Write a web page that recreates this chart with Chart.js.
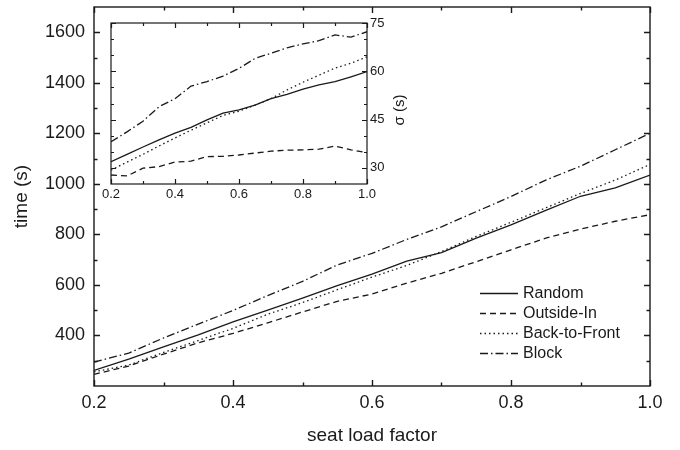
<!DOCTYPE html>
<html>
<head>
<meta charset="utf-8">
<script src="https://cdn.jsdelivr.net/npm/chart.js@4/dist/chart.umd.min.js"></script>
<style>
  html,body{margin:0;padding:0;background:#fff;}
  #wrap{position:relative;width:680px;height:450px;}
  #main{position:absolute;left:0;top:0;}
  #inset{position:absolute;left:95px;top:13px;}
</style>
</head>
<body>
<div id="wrap">
  <canvas id="main" width="680" height="450"></canvas>
  <canvas id="inset" width="315" height="195"></canvas>
</div>
<script>
// seat load factor samples
const loadFactor = [0.2,0.25,0.3,0.35,0.4,0.45,0.5,0.55,0.6,0.65,0.7,0.75,0.8,0.85,0.9,0.95,1.0];

// boarding time (s)
const randomTime      = [262,306,355,402,454,500,548,597,643,694,728,785,838,895,951,984,1035];
const outsideInTime   = [246,279,326,371,408,450,493,535,564,607,646,692,739,785,821,852,878];
const backToFrontTime = [256,283,333,380,428,484,530,581,631,677,732,792,848,905,962,1015,1077];
const blockTime       = [295,330,390,445,499,558,614,679,725,780,830,890,950,1015,1070,1135,1200];

// standard deviation sigma (s), inset
const randomSigma      = [31.9,34.2,36.5,38.7,40.8,42.6,44.9,47.0,48.0,49.5,51.5,52.8,54.5,55.8,56.8,58.3,59.9];
const outsideInSigma   = [27.8,27.5,29.9,30.4,31.8,32.1,33.5,33.6,34.0,34.6,35.2,35.5,35.6,35.8,36.8,35.6,34.7];
const backToFrontSigma = [29.3,31.8,34.2,36.8,39.3,41.7,44.0,46.3,47.6,49.5,51.5,54.2,56.6,58.8,61.0,62.5,64.5];
const blockSigma       = [38.1,41.2,44.5,49.0,51.5,55.4,56.8,58.5,60.9,64.0,65.6,67.3,68.5,69.5,71.3,70.6,72.3];

const seriesNames = ['Random','Outside-In','Back-to-Front','Block'];

// axis ticks
const mainXTicks = [0.2,0.4,0.6,0.8,1.0];
const mainXMinor = [0.3,0.5,0.7,0.9];
const mainYTicks = [400,600,800,1000,1200,1400,1600];
const mainYMinor = [300,500,700,900,1100,1300,1500];
const insetYTicks = [30,45,60,75];
const insetYMinor = [35,40,50,55,65,70];

const ink = '#1a1a1a';
const styles = [[], [6,4], [1.5,3], [8,3,1.5,3]];

function toXY(ys){ return loadFactor.map((x,i)=>({x, y:ys[i]})); }

function makeSets(arrays){
  return arrays.map((a,i)=>({
    label: seriesNames[i], data: toXY(a),
    borderColor: ink, borderWidth: 1.3, borderDash: styles[i],
    pointRadius: 0, tension: 0, fill: false
  }));
}

// pin the axis box size and drop label overhang padding
function pinBox(prop, size){
  return s => {
    s[prop] = size;
    s.paddingTop = 0; s.paddingBottom = 0; s.paddingLeft = 0; s.paddingRight = 0;
  };
}

// frame + inward ticks on all four sides
function frameTicks(o){
  return {
    id: 'frameTicks',
    afterDraw(chart){
      const {ctx, chartArea:a, scales} = chart;
      const xs = scales.x, ys = scales.y;
      ctx.save();
      ctx.strokeStyle = ink; ctx.lineWidth = o.lw;
      ctx.strokeRect(a.left, a.top, a.right - a.left, a.bottom - a.top);
      ctx.beginPath();
      const vx = (vals, len) => vals.forEach(v => {
        const p = Math.round(xs.getPixelForValue(v)) + 0.5;
        ctx.moveTo(p, a.bottom); ctx.lineTo(p, a.bottom - len);
        ctx.moveTo(p, a.top); ctx.lineTo(p, a.top + len);
      });
      const vy = (vals, len) => vals.forEach(v => {
        const p = Math.round(ys.getPixelForValue(v)) + 0.5;
        ctx.moveTo(a.left, p); ctx.lineTo(a.left + len, p);
        ctx.moveTo(a.right, p); ctx.lineTo(a.right - len, p);
      });
      vx(o.xMajor, o.major); vx(o.xMinor, o.minor);
      vy(o.yMajor, o.major); vy(o.yMinor, o.minor);
      ctx.stroke();
      ctx.restore();
    }
  };
}

const legendPlugin = {
  id: 'lineLegend',
  afterDraw(chart){
    const ctx = chart.ctx;
    ctx.save();
    ctx.font = '16px "Liberation Sans", Arial, sans-serif';
    ctx.fillStyle = ink; ctx.textBaseline = 'middle';
    chart.data.datasets.forEach((ds,i)=>{
      const y = 293 + i*20;
      ctx.strokeStyle = ink; ctx.lineWidth = 1.3;
      ctx.setLineDash(ds.borderDash);
      ctx.beginPath(); ctx.moveTo(480, y + 0.5); ctx.lineTo(518, y + 0.5); ctx.stroke();
      ctx.setLineDash([]);
      ctx.fillText(ds.label, 523, y + 1);
    });
    ctx.restore();
  }
};

const tickFont = {family:'"Liberation Sans", Arial, sans-serif', size:18};
const titleFont = {family:'"Liberation Sans", Arial, sans-serif', size:19};

new Chart(document.getElementById('main'), {
  type: 'line',
  data: {datasets: makeSets([randomTime, outsideInTime, backToFrontTime, blockTime])},
  options: {
    responsive: false, animation: false, devicePixelRatio: 1,
    layout: {padding: {top: 7, right: 30, left: 0, bottom: 0}},
    plugins: {legend: {display: false}, tooltip: {enabled: false}},
    scales: {
      x: {
        type: 'linear', min: 0.2, max: 1.0,
        afterBuildTicks: s => { s.ticks = mainXTicks.map(v => ({value: v})); },
        afterFit: pinBox('height', 64),
        grid: {display: false, drawTicks: false}, border: {display: false},
        ticks: {color: ink, font: tickFont, padding: 6, callback: v => v.toFixed(1)},
        title: {display: true, text: 'seat load factor', color: ink, font: titleFont, padding: {bottom: 3}}
      },
      y: {
        type: 'linear', min: 200, max: 1700,
        afterBuildTicks: s => { s.ticks = mainYTicks.map(v => ({value: v})); },
        afterFit: pinBox('width', 94),
        grid: {display: false, drawTicks: false}, border: {display: false},
        ticks: {color: ink, font: tickFont, padding: 9, callback: v => String(v)},
        title: {display: true, text: 'time (s)', color: ink, font: titleFont, padding: {top: 10}}
      }
    }
  },
  plugins: [frameTicks({lw: 1.4, major: 6, minor: 3.5, xMajor: mainXTicks, xMinor: mainXMinor, yMajor: mainYTicks, yMinor: mainYMinor}), legendPlugin]
});

const insetFont = {family:'"Liberation Sans", Arial, sans-serif', size:13};

const sigmaTitle = {
  id: 'sigmaTitle',
  afterDraw(chart){
    const ctx = chart.ctx;
    ctx.save();
    ctx.font = '15px "Liberation Sans", Arial, sans-serif';
    ctx.fillStyle = ink; ctx.textAlign = 'center'; ctx.textBaseline = 'middle';
    ctx.translate(305, 97);
    ctx.rotate(-Math.PI/2);
    ctx.fillText('σ (s)', 0, 0);
    ctx.restore();
  }
};

new Chart(document.getElementById('inset'), {
  type: 'line',
  data: {datasets: makeSets([randomSigma, outsideInSigma, backToFrontSigma, blockSigma])},
  options: {
    responsive: false, animation: false, devicePixelRatio: 1,
    layout: {padding: {top: 10, right: 0, left: 16, bottom: 0}},
    plugins: {legend: {display: false}, tooltip: {enabled: false}},
    scales: {
      x: {
        type: 'linear', min: 0.2, max: 1.0,
        afterBuildTicks: s => { s.ticks = mainXTicks.map(v => ({value: v})); },
        afterFit: pinBox('height', 24),
        grid: {display: false, drawTicks: false}, border: {display: false},
        ticks: {color: ink, font: insetFont, padding: 3, callback: v => v.toFixed(1)}
      },
      y: {
        type: 'linear', position: 'right', min: 25, max: 75,
        afterBuildTicks: s => { s.ticks = insetYTicks.map(v => ({value: v})); },
        afterFit: pinBox('width', 43),
        grid: {display: false, drawTicks: false}, border: {display: false},
        ticks: {color: ink, font: insetFont, padding: 3}
      }
    }
  },
  plugins: [frameTicks({lw: 1.2, major: 5, minor: 3, xMajor: mainXTicks, xMinor: mainXMinor, yMajor: insetYTicks, yMinor: insetYMinor}), sigmaTitle]
});
</script>
</body>
</html>
